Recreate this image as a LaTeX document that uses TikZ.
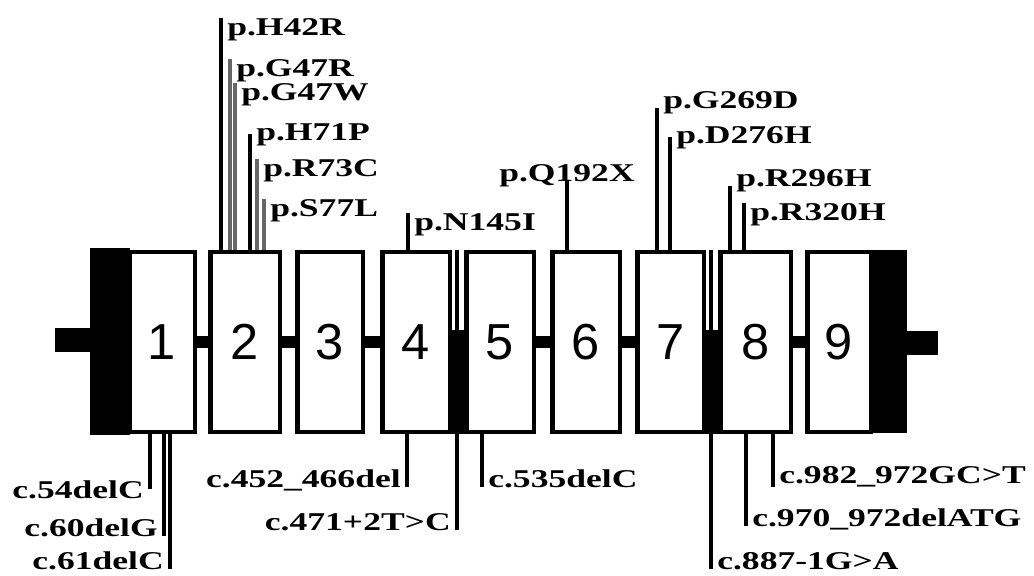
\documentclass[tikz,border=0pt]{standalone}
\usepackage{fontspec}
\setmainfont{Liberation Serif}
\newfontfamily\labfont{Liberation Serif}[FakeStretch=1.39]
\newfontfamily\numfont{Liberation Sans}
\usetikzlibrary{calc}

\begin{document}
\begin{tikzpicture}[x=0.025cm,y=-0.025cm,
exon/.style={draw,line width=3.2pt,fill=white,inner sep=0pt,
minimum height=4.49cm,font=\numfont\fontsize{36}{36}\selectfont},
utr/.style={fill=black,inner sep=0pt},
intron/.style={line width=9.2pt},
stub/.style={line width=17pt},
mut/.style={line width=2.4pt},
mutg/.style={line width=2.6pt,draw=black!60},
lab/.style={inner xsep=0.15cm,inner ysep=0pt,
font=\labfont\bfseries\fontsize{18.2}{20}\selectfont}
]
\useasboundingbox (0,0) rectangle (1034,575);

% gene: UTRs, exons, introns
\node[utr,minimum width=1cm,minimum height=4.675cm] (utr5) at (110,341.5) {};
\node[utr,minimum width=0.925cm,minimum height=4.575cm] (utr3) at (888.5,341.5) {};
\foreach \n/\cx/\w in {1/162/70,2/245/74,3/330/70,4/416/72,5/500/72,
6/586/72,7/670.5/71,8/755.5/75,9/839/68}
  \node[exon,minimum width=(\w-4.5)*0.025cm] (e\n) at (\cx,342) {\n};
\foreach \a/\b in {1/2,2/3,3/4,4/5,5/6,6/7,7/8,8/9}
  \draw[intron] (e\a.east) -- (e\b.west);
\coordinate (l0) at (55,340);
\coordinate (r0) at (938,343);
\draw[stub] (l0) -- (l0 -| utr5.west);
\draw[stub] (utr3.east |- r0) -- (r0);
\fill ($(e4.east)+(0,-12)$) rectangle (e5.south west);
\fill ($(e7.east)+(0,-12)$) rectangle (e8.south west);

% protein changes (above)
\node[lab,anchor=base west] (h42r) at (221,35) {p.H42R};
\node[lab,anchor=base west] (g47r) at (230,76) {p.G47R};
\node[lab,anchor=base west] (g47w) at (235,100) {p.G47W};
\node[lab,anchor=base west] (h71p) at (250,140) {p.H71P};
\node[lab,anchor=base west] (r73c) at (257,176) {p.R73C};
\node[lab,anchor=base west] (s77l) at (264,216) {p.S77L};
\node[lab,anchor=base west] (n145i) at (408,230) {p.N145I};
\node[lab,anchor=base] (q192x) at (567,181) {p.Q192X};
\node[lab,anchor=base west] (g269d) at (657,108) {p.G269D};
\node[lab,anchor=base west] (d276h) at (670,143) {p.D276H};
\node[lab,anchor=base west] (r296h) at (730,186) {p.R296H};
\node[lab,anchor=base west] (r320h) at (744,220) {p.R320H};

\draw[mut] (h42r.north west) -- (h42r.north west |- e2.north);
\draw[mutg] (g47r.north west) -- (g47r.north west |- e2.north);
\draw[mutg] (g47w.north west) -- (g47w.north west |- e2.north);
\draw[mut] (h71p.west) -- (h71p.west |- e2.north);
\draw[mutg] (r73c.north west) -- (r73c.north west |- e2.north);
\draw[mutg] (s77l.north west) -- (s77l.north west |- e2.north);
\draw[mut] (n145i.north west) -- (n145i.north west |- e4.north);
\draw[mut] (q192x.base) -- (q192x.base |- e6.north);
\draw[mut] (g269d.base west) -- (g269d.base west |- e7.north);
\draw[mut] (d276h.west) -- (d276h.west |- e7.north);
\draw[mut] (r296h.base west) -- (r296h.base west |- e8.north);
\draw[mut] (r320h.north west) -- (r320h.north west |- e8.north);

% DNA changes (below)
\node[lab,anchor=base east] (c54) at (150,498) {c.54delC};
\node[lab,anchor=base east] (c60) at (164,536) {c.60delG};
\node[lab,anchor=base east] (c61) at (170,569) {c.61delC};
\node[lab,anchor=base east] (c452) at (407,487) {c.452\_466del};
\node[lab,anchor=base east] (c471) at (457,530) {c.471+2T>C};
\node[lab,anchor=base west] (c535) at (482,487) {c.535delC};
\node[lab,anchor=base west] (c887) at (711,569) {c.887-1G>A};
\node[lab,anchor=base west] (c970) at (746,526) {c.970\_972delATG};
\node[lab,anchor=base west] (c982) at (773,483) {c.982\_972GC>T};

\draw[mut] (c54.east |- e1.south) -- (c54.east);
\draw[mut] (c60.base east |- e1.south) -- (c60.base east);
\draw[mut] (c61.base east |- e1.south) -- (c61.base east);
\draw[mut] (c452.base east |- e4.south) -- (c452.base east);
\draw[mut] (c471.base east |- e4.north) -- (c471.base east);
\draw[mut] (c535.base west |- e5.south) -- (c535.base west);
\draw[mut] (c887.base west |- e7.north) -- (c887.base west);
\draw[mut] (c970.base west |- e8.south) -- (c970.base west);
\draw[mut] (c982.south west |- e8.south) -- (c982.south west);
\end{tikzpicture}
\end{document}
